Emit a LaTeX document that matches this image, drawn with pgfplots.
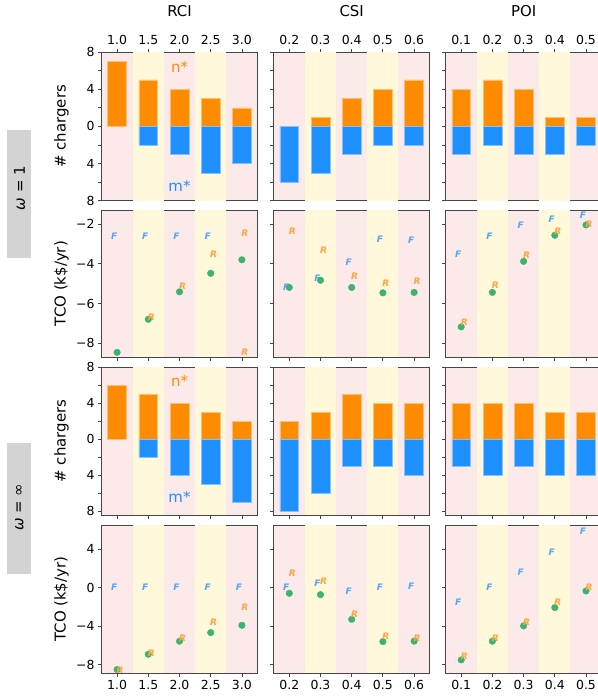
\documentclass[border=0pt]{standalone}
\usepackage{pgfplots}
\pgfplotsset{compat=1.18}
\usepackage{fontspec}
\setmainfont{DejaVu Sans}
\definecolor{pinkbg}{RGB}{252,234,234}
\definecolor{ybg}{RGB}{255,248,218}
\definecolor{nor}{RGB}{255,140,0}
\definecolor{mbl}{RGB}{30,144,255}
\definecolor{grn}{RGB}{60,179,113}
\definecolor{fcol}{RGB}{85,165,250}
\definecolor{rcol}{RGB}{255,165,60}
\definecolor{boxg}{RGB}{211,211,211}
\definecolor{spine}{RGB}{70,70,70}
\pgfplotsset{
  base/.style={scale only axis, width=156bp, anchor=north west,
    axis line style={spine, line width=0.8bp},
    tick align=outside, major tick length=3.5bp, minor tick length=3.5bp,
    every tick/.style={spine, line width=0.8bp},
    tick label style={font=\fontsize{12.5}{14}\selectfont},
    /pgf/number format/assume math mode=true,
    axis background/.style={fill=pinkbg},
    xtick pos=left, ytick pos=left,
    xticklabels={},
    ylabel style={font=\fontsize{15}{17}\selectfont, at={(axis description cs:0,0.5)}, anchor=center, yshift=40bp},
  },
  rci/.style={xmin=0.75,xmax=3.25,xtick={1,1.5,2,2.5,3}},
  csi/.style={xmin=0.15,xmax=0.65,xtick={0.2,0.3,0.4,0.5,0.6}},
  poi/.style={xmin=0.05,xmax=0.55,xtick={0.1,0.2,0.3,0.4,0.5}},
  rcilab/.style={xticklabels={1.0,1.5,2.0,2.5,3.0}},
  csilab/.style={xticklabels={0.2,0.3,0.4,0.5,0.6}},
  poilab/.style={xticklabels={0.1,0.2,0.3,0.4,0.5}},
  barrow/.style={ymin=-8,ymax=8,ytick={-8,-4,0,4,8},yticklabels={8,4,0,4,8},minor ytick={-6,-2,2,6}},
  tcoa/.style={ymin=-8.70,ymax=-1.30,ytick={-8,-6,-4,-2},yticklabels={−8,−6,−4,−2}},
  tcob/.style={ymin=-8.89,ymax=6.49,ytick={-8,-4,0,4},yticklabels={−8,−4,0,4}},
  noy/.style={yticklabels={}},
  top/.style={xtick pos=right, xticklabel pos=right},
  nbar/.style={ybar, bar width=#1, bar shift=0pt, fill=nor, draw=nor!55!white, line width=0.5bp},
  mbar/.style={ybar, bar width=#1, bar shift=0pt, fill=mbl, draw=mbl!55!white, line width=0.5bp},
  gdot/.style={only marks, mark=*, mark size=3.3bp, color=grn, mark options={fill=grn, draw=grn}},
  fmk/.style={draw=none, mark=none, nodes near coords={\textbf{\textit{F}}},
    every node near coord/.append style={anchor=center, xshift=-3bp, text=fcol, inner sep=0pt, font=\fontsize{9}{9}\selectfont}},
  rmk/.style={draw=none, mark=none, nodes near coords={\textbf{\textit{R}}},
    every node near coord/.append style={anchor=center, xshift=3bp, text=rcol, inner sep=0pt, font=\fontsize{9}{9}\selectfont}},
}
\newcommand{\stripes}{\fill[ybg] (rel axis cs:0.2,0) rectangle (rel axis cs:0.4,1);
  \fill[ybg] (rel axis cs:0.6,0) rectangle (rel axis cs:0.8,1);}
\begin{document}
\begin{tikzpicture}
% ---------- Row 1: chargers, omega = 1 ----------
\begin{axis}[base, rci, rcilab, top, barrow, at={(101.5bp,-52bp)}, height=148.7bp, ylabel={\# chargers}]
\stripes
\addplot[nbar=0.3] coordinates {(1,7)(1.5,5)(2,4)(2.5,3)(3,2)};
\addplot[mbar=0.3] coordinates {(1.5,-2)(2,-3)(2.5,-5)(3,-4)};
\node[text=nor, font=\fontsize{15}{17}\selectfont] at (axis cs:2,6.4) {n*};
\node[text=mbl, font=\fontsize{15}{17}\selectfont] at (axis cs:2,-6.4) {m*};
\end{axis}
\begin{axis}[base, csi, csilab, top, barrow, noy, at={(273.7bp,-52bp)}, height=148.7bp]
\stripes
\addplot[nbar=0.06] coordinates {(0.3,1)(0.4,3)(0.5,4)(0.6,5)};
\addplot[mbar=0.06] coordinates {(0.2,-6)(0.3,-5)(0.4,-3)(0.5,-2)(0.6,-2)};
\end{axis}
\begin{axis}[base, poi, poilab, top, barrow, noy, at={(445.6bp,-52bp)}, height=148.7bp]
\stripes
\addplot[nbar=0.06] coordinates {(0.1,4)(0.2,5)(0.3,4)(0.4,1)(0.5,1)};
\addplot[mbar=0.06] coordinates {(0.1,-3)(0.2,-2)(0.3,-3)(0.4,-3)(0.5,-2)};
\end{axis}
% ---------- Row 2: TCO, omega = 1 ----------
\begin{axis}[base, rci, tcoa, at={(101.5bp,-210bp)}, height=147.3bp, ylabel={TCO (k\$/yr)}]
\stripes
\addplot[fmk] coordinates {(1,-2.64)(1.5,-2.64)(2,-2.64)(2.5,-2.64)};
\addplot[gdot] coordinates {(1,-8.45)(1.5,-6.79)(2,-5.41)(2.5,-4.48)(3,-3.80)};
\addplot[rmk] coordinates {(1.5,-6.69)(2,-5.11)(2.5,-3.51)(3,-2.47)(3,-8.45)};
\end{axis}
\begin{axis}[base, csi, tcoa, noy, at={(273.7bp,-210bp)}, height=147.3bp]
\stripes
\addplot[fmk] coordinates {(0.2,-5.19)(0.3,-4.72)(0.4,-3.90)(0.5,-2.77)(0.6,-2.82)};
\addplot[gdot] coordinates {(0.2,-5.19)(0.3,-4.83)(0.4,-5.19)(0.5,-5.46)(0.6,-5.44)};
\addplot[rmk] coordinates {(0.2,-2.36)(0.3,-3.31)(0.4,-4.65)(0.5,-4.98)(0.6,-4.90)};
\end{axis}
\begin{axis}[base, poi, tcoa, noy, at={(445.6bp,-210bp)}, height=147.3bp]
\stripes
\addplot[fmk] coordinates {(0.1,-3.51)(0.2,-2.64)(0.3,-2.04)(0.4,-1.77)(0.5,-1.55)};
\addplot[gdot] coordinates {(0.1,-7.17)(0.2,-5.44)(0.3,-3.88)(0.4,-2.57)(0.5,-2.05)};
\addplot[rmk] coordinates {(0.1,-6.93)(0.2,-5.09)(0.3,-3.55)(0.4,-2.39)(0.5,-2.00)};
\end{axis}
% ---------- Row 3: chargers, omega = inf ----------
\begin{axis}[base, rci, barrow, ymin=-8.42, at={(101.5bp,-367.3bp)}, height=147.7bp, ylabel={\# chargers}]
\stripes
\addplot[nbar=0.3] coordinates {(1,6)(1.5,5)(2,4)(2.5,3)(3,2)};
\addplot[mbar=0.3] coordinates {(1.5,-2)(2,-4)(2.5,-5)(3,-7)};
\node[text=nor, font=\fontsize{15}{17}\selectfont] at (axis cs:2,6.5) {n*};
\node[text=mbl, font=\fontsize{15}{17}\selectfont] at (axis cs:2,-6.4) {m*};
\end{axis}
\begin{axis}[base, csi, barrow, ymin=-8.42, noy, at={(273.7bp,-367.3bp)}, height=147.7bp]
\stripes
\addplot[nbar=0.06] coordinates {(0.2,2)(0.3,3)(0.4,5)(0.5,4)(0.6,4)};
\addplot[mbar=0.06] coordinates {(0.2,-8)(0.3,-6)(0.4,-3)(0.5,-3)(0.6,-4)};
\end{axis}
\begin{axis}[base, poi, barrow, ymin=-8.42, noy, at={(445.6bp,-367.3bp)}, height=147.7bp]
\stripes
\addplot[nbar=0.06] coordinates {(0.1,4)(0.2,4)(0.3,4)(0.4,3)(0.5,3)};
\addplot[mbar=0.06] coordinates {(0.1,-3)(0.2,-4)(0.3,-3)(0.4,-4)(0.5,-4)};
\end{axis}
% ---------- Row 4: TCO, omega = inf ----------
\begin{axis}[base, rci, rcilab, tcob, at={(101.5bp,-525bp)}, height=148.3bp, ylabel={TCO (k\$/yr)}]
\stripes
\addplot[fmk] coordinates {(1,0)(1.5,0)(2,0)(2.5,0)(3,0)};
\addplot[gdot] coordinates {(1,-8.50)(1.5,-6.91)(2,-5.56)(2.5,-4.67)(3,-3.91)};
\addplot[rmk] coordinates {(1,-8.57)(1.5,-6.84)(2,-5.22)(2.5,-3.63)(3,-2.01)};
\end{axis}
\begin{axis}[base, csi, csilab, tcob, noy, at={(273.7bp,-525bp)}, height=148.3bp]
\stripes
\addplot[fmk] coordinates {(0.2,0)(0.3,0.48)(0.4,-0.35)(0.5,0.07)(0.6,0.14)};
\addplot[gdot] coordinates {(0.2,-0.59)(0.3,-0.73)(0.4,-3.29)(0.5,-5.60)(0.6,-5.56)};
\addplot[rmk] coordinates {(0.2,1.45)(0.3,0.68)(0.4,-2.80)(0.5,-5.05)(0.6,-5.22)};
\end{axis}
\begin{axis}[base, poi, poilab, tcob, noy, at={(445.6bp,-525bp)}, height=148.3bp]
\stripes
\addplot[fmk] coordinates {(0.1,-1.49)(0.2,0)(0.3,1.62)(0.4,3.66)(0.5,5.83)};
\addplot[gdot] coordinates {(0.1,-7.50)(0.2,-5.56)(0.3,-3.97)(0.4,-2.07)(0.5,-0.35)};
\addplot[rmk] coordinates {(0.1,-7.12)(0.2,-5.22)(0.3,-3.63)(0.4,-1.49)(0.5,0)};
\end{axis}
% ---------- titles and row labels ----------
\node[font=\fontsize{15}{17}\selectfont] at (179.5bp,-11.5bp) {RCI};
\node[font=\fontsize{15}{17}\selectfont] at (351.7bp,-11.5bp) {CSI};
\node[font=\fontsize{15}{17}\selectfont] at (523.6bp,-11.5bp) {POI};
\fill[boxg] (7.3bp,-130bp) rectangle (31bp,-257.7bp);
\node[rotate=90, font=\fontsize{15}{17}\selectfont] at (19.5bp,-188bp) {\textit{ω} = 1};
\fill[boxg] (7.3bp,-443.3bp) rectangle (31bp,-574bp);
\node[rotate=90, font=\fontsize{15}{17}\selectfont] at (19.5bp,-507.5bp) {\textit{ω} = ∞};
\pgfresetboundingbox
\useasboundingbox (0bp,0bp) rectangle (598bp,-696bp);
\end{tikzpicture}
\end{document}
